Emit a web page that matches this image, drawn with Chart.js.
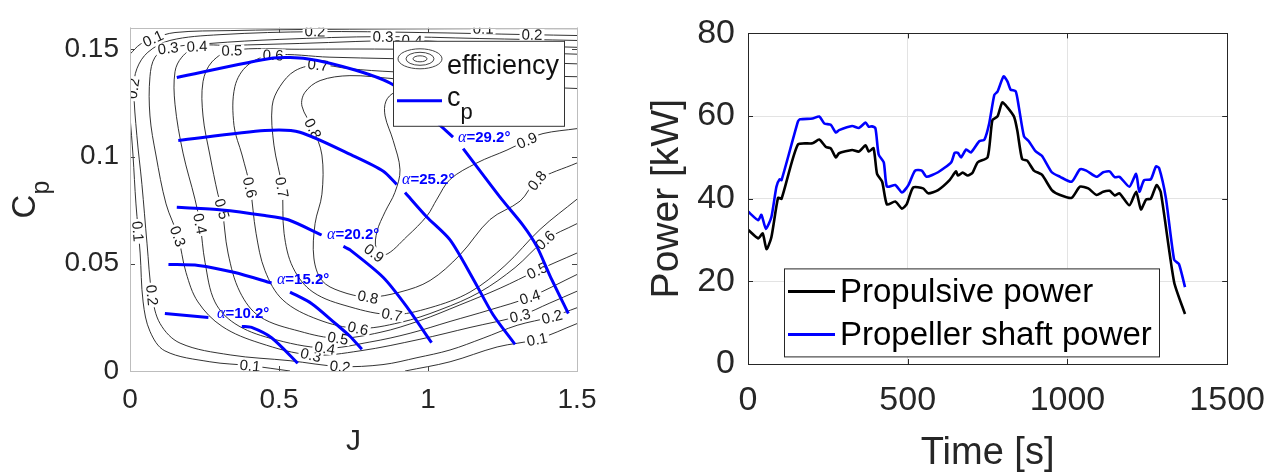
<!DOCTYPE html>
<html><head><meta charset="utf-8">
<script src="https://cdn.jsdelivr.net/npm/chart.js@4/dist/chart.umd.min.js"></script>
<style>
html,body{margin:0;padding:0;background:#fff;width:1281px;height:474px;overflow:hidden;}
#left{position:absolute;left:0;top:0;}
#right{position:absolute;left:640px;top:0;}
</style></head><body>
<canvas id="left" width="640" height="474"></canvas>
<canvas id="right" width="641" height="474"></canvas>
<script>
const FAM = "'Liberation Sans', Arial, Helvetica, sans-serif";

// ---------------- Left panel: efficiency contours + Cp curves ----------------
const jTicks = [0, 0.5, 1, 1.5];
const cpTicks = [0, 0.05, 0.1, 0.15];

// contour polylines [J, Cp]
const eff01a = [[0,0.1477],[0.034,0.1523],[0.077,0.1550],[0.151,0.1578],[0.336,0.1587],[0.671,0.1593],[1.185,0.1596],[1.5,0.1596]];
const eff01b = [[0,0.1189],[0.010,0.1007],[0.020,0.0779],[0.034,0.0550],[0.044,0.0322],[0.067,0.0185],[0.117,0.0094],[0.268,0.0043],[0.403,0.0025],[0.537,0]];
const eff01c = [[0.923,0],[1.074,0.0043],[1.232,0.0112],[1.366,0.0148],[1.5,0.0221]];
const eff02 = [[1.5,0.1564],[1.342,0.1568],[0.973,0.1578],[0.621,0.1582],[0.302,0.1568],[0.134,0.1541],[0.060,0.1486],[0.023,0.1409],[0.013,0.1317],[0.023,0.1098],[0.040,0.0870],[0.057,0.0596],[0.074,0.0354],[0.101,0.0221],[0.168,0.0130],[0.336,0.0075],[0.537,0.0048],[0.705,0.0021],[0.849,0.0030],[0.963,0.0062],[1.074,0.0098],[1.185,0.0153],[1.299,0.0213],[1.416,0.0253],[1.5,0.0295]];
const eff03 = [[1.5,0.1541],[1.174,0.1550],[0.849,0.1559],[0.503,0.1546],[0.268,0.1527],[0.128,0.1505],[0.084,0.1463],[0.067,0.1372],[0.067,0.1189],[0.087,0.1007],[0.121,0.0779],[0.161,0.0628],[0.188,0.0459],[0.228,0.0322],[0.309,0.0208],[0.436,0.0130],[0.607,0.0075],[0.772,0.0094],[0.973,0.0148],[1.141,0.0203],[1.309,0.0258],[1.409,0.0317],[1.5,0.0372]];
const eff04 = [[1.5,0.1509],[1.174,0.1523],[0.946,0.1541],[0.570,0.1527],[0.336,0.1518],[0.225,0.1514],[0.174,0.1463],[0.151,0.1395],[0.151,0.1244],[0.178,0.1016],[0.218,0.0801],[0.235,0.0687],[0.252,0.0505],[0.285,0.0322],[0.352,0.0221],[0.470,0.0153],[0.654,0.0107],[0.805,0.0135],[0.940,0.0176],[1.074,0.0231],[1.208,0.0285],[1.342,0.0345],[1.5,0.0450]];
const eff05 = [[1.5,0.1477],[1.174,0.1491],[0.906,0.1500],[0.570,0.1500],[0.342,0.1495],[0.275,0.1441],[0.245,0.1349],[0.245,0.1189],[0.268,0.1007],[0.295,0.0824],[0.309,0.0756],[0.329,0.0550],[0.369,0.0368],[0.436,0.0253],[0.570,0.0185],[0.698,0.0153],[0.839,0.0180],[0.973,0.0235],[1.107,0.0308],[1.242,0.0386],[1.366,0.0468],[1.5,0.0550]];
const eff06 = [[1.5,0.1432],[1.074,0.1450],[0.671,0.1463],[0.480,0.1473],[0.396,0.1427],[0.352,0.1326],[0.349,0.1144],[0.376,0.1007],[0.403,0.0856],[0.423,0.0642],[0.453,0.0468],[0.513,0.0331],[0.631,0.0240],[0.765,0.0199],[0.906,0.0226],[1.040,0.0285],[1.174,0.0368],[1.292,0.0482],[1.393,0.0610],[1.5,0.0687]];
const eff07 = [[1.5,0.1372],[1.174,0.1381],[0.883,0.1395],[0.738,0.1409],[0.631,0.1427],[0.554,0.1400],[0.503,0.1326],[0.477,0.1235],[0.483,0.1053],[0.510,0.0856],[0.517,0.0642],[0.547,0.0482],[0.614,0.0368],[0.738,0.0299],[0.879,0.0263],[1.007,0.0295],[1.141,0.0368],[1.258,0.0491],[1.376,0.0660],[1.5,0.0801]];
const eff08 = [[1.5,0.1317],[1.174,0.1336],[0.883,0.1363],[0.738,0.1377],[0.638,0.1354],[0.587,0.1299],[0.577,0.1235],[0.614,0.1130],[0.644,0.1007],[0.644,0.0824],[0.621,0.0687],[0.617,0.0527],[0.644,0.0422],[0.705,0.0372],[0.799,0.0345],[0.906,0.0368],[1.007,0.0422],[1.107,0.0541],[1.208,0.0706],[1.309,0.0792],[1.366,0.0888],[1.5,0.0970]];
const eff09 = [[1.5,0.1130],[1.386,0.1107],[1.332,0.1075],[1.265,0.1030],[1.164,0.0970],[1.074,0.0893],[1.030,0.0801],[0.997,0.0724],[0.930,0.0628],[0.856,0.0541],[0.826,0.0573],[0.829,0.0651],[0.856,0.0742],[0.889,0.0833],[0.906,0.0938],[0.883,0.1075],[0.856,0.1189],[0.859,0.1258],[0.889,0.1299],[1.007,0.1336],[1.141,0.1326]];

const contourLevels = ['0.1','0.1','0.1','0.2','0.3','0.4','0.5','0.6','0.7','0.8','0.9'];
const contourLines  = [eff01a, eff01b, eff01c, eff02, eff03, eff04, eff05, eff06, eff07, eff08, eff09];

// contour labels: [text, J, Cp]
const contourLabels = [
  ['0.1',0.077,0.1550],['0.2',0.621,0.1584],['0.2',0.010,0.1317],['0.3',0.128,0.1505],['0.4',0.225,0.1514],
  ['0.5',0.342,0.1495],['0.6',0.480,0.1473],['0.7',0.631,0.1427],['0.8',0.614,0.1130],['0.1',1.185,0.1596],
  ['0.2',1.349,0.1568],['0.3',0.849,0.1559],['0.4',0.946,0.1541],
  ['0.1',0.027,0.0651],['0.2',0.074,0.0354],['0.3',0.161,0.0628],['0.4',0.235,0.0687],['0.5',0.309,0.0756],
  ['0.6',0.403,0.0856],['0.7',0.510,0.0856],
  ['0.1',0.403,0.0025],['0.2',0.705,0.0021],['0.3',0.607,0.0075],['0.4',0.654,0.0107],['0.5',0.698,0.0153],
  ['0.6',0.765,0.0199],['0.7',0.879,0.0263],['0.8',0.799,0.0345],['0.9',0.819,0.0550],
  ['0.9',1.332,0.1075],['0.8',1.366,0.0888],['0.6',1.393,0.0610],['0.5',1.366,0.0468],['0.4',1.342,0.0345],
  ['0.3',1.309,0.0258],['0.2',1.416,0.0253],['0.1',1.366,0.0148]
];

// Cp curves for blade pitch angles (upper and lower branches around the label)
const cp292up = [[0.157,0.1368],[0.481,0.1459],[0.593,0.1456],[0.755,0.1403],[0.883,0.1334],[1.035,0.1152],[1.084,0.1090]];
const cp292lo = [[1.118,0.1037],[1.247,0.0801],[1.319,0.0679],[1.365,0.0581],[1.409,0.0445],[1.471,0.0268]];
const cp252up = [[0.162,0.1075],[0.453,0.1121],[0.570,0.1113],[0.755,0.0999],[0.850,0.0931],[0.895,0.0870]];
const cp252lo = [[0.923,0.0832],[0.996,0.0718],[1.074,0.0611],[1.152,0.0428],[1.219,0.0261],[1.292,0.0124]];
const cp202up = [[0.157,0.0763],[0.308,0.0751],[0.453,0.0725],[0.531,0.0705],[0.643,0.0634]];
const cp202lo = [[0.716,0.0581],[0.738,0.0565],[0.850,0.0436],[0.929,0.0299],[1.012,0.0132]];
const cp152up = [[0.129,0.0497],[0.229,0.0492],[0.352,0.0459],[0.475,0.0410]];
const cp152lo = [[0.537,0.0368],[0.610,0.0314],[0.688,0.0223],[0.738,0.0162],[0.778,0.0101]];
const cp102up = [[0.117,0.0268],[0.263,0.0249]];
const cp102lo = [[0.375,0.0208],[0.408,0.0203],[0.476,0.0154],[0.563,0.0036]];
const cpLines = [cp292up, cp292lo, cp252up, cp252lo, cp202up, cp202lo, cp152up, cp152lo, cp102up, cp102lo];

const alphaValues = ['29.2', '25.2', '20.2', '15.2', '10.2'];
const alphaLabelAt = [[1.101,0.1089],[0.913,0.0893],[0.661,0.0637],[0.493,0.0427],[0.292,0.0267]];

// ---------------- Right panel: power vs time ----------------
const timeTicks = [0, 500, 1000, 1500];
const powerTicks = [0, 20, 40, 60, 80];
const seriesNames = ['Propulsive power', 'Propeller shaft power'];
const tProp = [0,32,46,58,73,94,105,156,202,223,244,259,275,285,326,347,368,378,393,404,420,435,461,482,497,517,548,564,595,631,651,657,672,688,703,719,750,765,781,796,812,833,843,858,874,895,920,951,977,1013,1039,1065,1091,1112,1132,1148,1163,1194,1215,1230,1246,1261,1279,1292,1334,1368];
const pProp = [32.5,30.4,31.6,27.8,30.6,40.2,40.0,53.1,53.4,54.3,52.5,52.2,50.0,51.0,51.8,51.4,52.9,51.4,52.2,46.0,44.1,38.6,39.3,37.6,38.7,42.7,42.5,41.3,42.1,44.5,46.6,45.6,46.3,45.6,46.3,48.8,50.0,59.0,59.9,63.3,62.1,59.8,56.5,49.6,49.2,46.8,45.8,42.1,40.9,40.2,42.9,42.5,40.9,41.7,41.9,40.8,41.3,38.4,41.7,37.4,39.8,40.0,43.3,41.6,19.8,12.1];
const tShaft = [0,32,42,56,73,89,99,105,156,163,202,223,239,259,275,285,326,347,368,378,388,399,409,425,435,461,482,502,523,544,559,595,636,647,657,667,683,698,724,740,755,771,781,800,812,822,838,848,864,879,900,920,951,977,1013,1039,1059,1091,1112,1132,1148,1163,1194,1215,1225,1240,1261,1277,1287,1308,1334,1349,1368];
const pShaft = [36.9,34.8,36.1,32.7,35.5,42.9,44.7,44.5,58.6,59.2,59.4,59.9,58.2,57.9,56.0,56.6,57.6,57.1,58.4,57.4,57.5,57.0,50.7,48.8,42.9,43.3,41.5,43.3,46.8,46.8,45.3,46.4,48.8,51.1,51.1,50.0,51.9,51.2,53.9,54.3,58.2,65.1,65.9,69.6,68.4,66.4,66.0,62.1,55.1,53.9,51.5,50.4,46.4,45.3,44.1,47.1,46.8,45.3,46.4,46.6,45.2,45.3,42.9,46.0,41.7,44.5,44.7,47.8,47.4,40.2,25.2,24.2,18.6];

// ---------------- helpers ----------------
const pairs = arr => arr.map(p => ({x: p[0], y: p[1]}));
const zipXY = (xs, ys) => xs.map((v, i) => ({x: v, y: ys[i]}));
const fmtNum = v => String(+Number(v).toFixed(3));

function drawBox(chart, boxColor, tickColor, tickLen) {
  const {ctx, chartArea: a, scales: {x, y}} = chart;
  ctx.save();
  ctx.strokeStyle = tickColor; ctx.lineWidth = 1;
  ctx.beginPath();
  x.ticks.forEach(t => {
    const px = Math.round(x.getPixelForValue(t.value)) + 0.5;
    ctx.moveTo(px, a.bottom); ctx.lineTo(px, a.bottom - tickLen);
    ctx.moveTo(px, a.top); ctx.lineTo(px, a.top + tickLen);
  });
  y.ticks.forEach(t => {
    const py = Math.round(y.getPixelForValue(t.value)) + 0.5;
    ctx.moveTo(a.left, py); ctx.lineTo(a.left + tickLen, py);
    ctx.moveTo(a.right, py); ctx.lineTo(a.right - tickLen, py);
  });
  ctx.stroke();
  ctx.strokeStyle = boxColor;
  ctx.strokeRect(Math.round(a.left) + 0.5, Math.round(a.top) + 0.5, Math.round(a.right - a.left), Math.round(a.bottom - a.top));
  ctx.restore();
}

function segDist(px, py, a, b) {
  const dx = b.x - a.x, dy = b.y - a.y;
  const L = dx * dx + dy * dy || 1;
  let t = ((px - a.x) * dx + (py - a.y) * dy) / L;
  t = Math.max(0, Math.min(1, t));
  return Math.hypot(px - (a.x + t * dx), py - (a.y + t * dy));
}

function labelAngle(chart, level, px, py) {
  const {x, y} = chart.scales;
  let best = null, bd = Infinity;
  contourLines.forEach((line, k) => {
    if (contourLevels[k] !== level) return;
    for (let i = 0; i < line.length - 1; i++) {
      const a = {x: x.getPixelForValue(line[i][0]), y: y.getPixelForValue(line[i][1])};
      const b = {x: x.getPixelForValue(line[i + 1][0]), y: y.getPixelForValue(line[i + 1][1])};
      const d = segDist(px, py, a, b);
      if (d < bd) { bd = d; best = [a, b]; }
    }
  });
  if (!best) return 0;
  let ang = Math.atan2(best[1].y - best[0].y, best[1].x - best[0].x);
  if (ang > Math.PI / 2) ang -= Math.PI;
  if (ang < -Math.PI / 2) ang += Math.PI;
  return ang;
}

function drawContourLabels(chart) {
  const {ctx, chartArea: a, scales: {x, y}} = chart;
  ctx.save();
  ctx.beginPath(); ctx.rect(a.left, a.top, a.right - a.left, a.bottom - a.top); ctx.clip();
  ctx.font = '15px ' + FAM;
  ctx.textAlign = 'center'; ctx.textBaseline = 'middle';
  contourLabels.forEach(([txt, j, cp]) => {
    const px = x.getPixelForValue(j), py = y.getPixelForValue(cp);
    const ang = labelAngle(chart, txt, px, py);
    ctx.save(); ctx.translate(px, py); ctx.rotate(ang);
    const w = ctx.measureText(txt).width + 4;
    ctx.fillStyle = '#fff'; ctx.fillRect(-w / 2, -6, w, 12);
    ctx.fillStyle = '#1a1a1a'; ctx.fillText(txt, 0, 1);
    ctx.restore();
  });
  ctx.restore();
}

function drawAlphaLabels(chart) {
  const {ctx, scales: {x, y}} = chart;
  ctx.save();
  ctx.textBaseline = 'middle'; ctx.textAlign = 'left';
  ctx.fillStyle = '#0000ff';
  alphaValues.forEach((v, i) => {
    const px = x.getPixelForValue(alphaLabelAt[i][0]), py = y.getPixelForValue(alphaLabelAt[i][1]);
    ctx.font = "italic 16px 'Liberation Serif', 'Times New Roman', serif";
    ctx.fillText('\u03b1', px, py);
    const w = ctx.measureText('\u03b1').width;
    ctx.font = 'bold 15px ' + FAM;
    ctx.fillText('=' + v + '\u00b0', px + w, py);
  });
  ctx.restore();
}

function drawLeftLegend(chart) {
  const {ctx, chartArea: a} = chart;
  const L = a.left + 263, T = a.top + 13, W = 171, H = 85;
  ctx.save();
  ctx.fillStyle = '#fff'; ctx.fillRect(L, T, W, H);
  ctx.strokeStyle = '#333'; ctx.lineWidth = 1;
  ctx.strokeRect(L + 0.5, T + 0.5, W, H);
  ctx.strokeStyle = '#444';
  [[22, 10], [14, 6.5], [7, 3]].forEach(([rx, ry]) => {
    ctx.beginPath(); ctx.ellipse(L + 27, T + 18, rx, ry, 0, 0, Math.PI * 2); ctx.stroke();
  });
  ctx.fillStyle = '#111'; ctx.textBaseline = 'alphabetic'; ctx.textAlign = 'left';
  ctx.font = '27px ' + FAM;
  ctx.fillText('efficiency', L + 54, T + 33);
  ctx.strokeStyle = '#0000ff'; ctx.lineWidth = 3;
  ctx.beginPath(); ctx.moveTo(L + 4, T + 60); ctx.lineTo(L + 49, T + 60); ctx.stroke();
  ctx.fillStyle = '#111';
  ctx.font = '27px ' + FAM;
  ctx.fillText('c', L + 54, T + 65);
  const wc = ctx.measureText('c').width;
  ctx.font = '22px ' + FAM;
  ctx.fillText('p', L + 54 + wc, T + 78);
  ctx.restore();
}

function drawCpTitle(chart) {
  const {ctx, chartArea: a} = chart;
  const cy = (a.top + a.bottom) / 2;
  ctx.save();
  ctx.translate(35, cy + 19);
  ctx.rotate(-Math.PI / 2);
  ctx.fillStyle = '#262626'; ctx.textBaseline = 'alphabetic'; ctx.textAlign = 'left';
  ctx.font = '33px ' + FAM;
  ctx.fillText('C', 0, 0);
  const w = ctx.measureText('C').width;
  ctx.font = '25px ' + FAM;
  ctx.fillText('p', w, 14);
  ctx.restore();
}

const leftPlugin = {
  id: 'leftDecor',
  beforeDatasetsDraw(chart) { chart.$lblDone = false; },
  beforeDatasetDraw(chart, args) {
    const ds = chart.data.datasets[args.index];
    if (ds.isCp && !chart.$lblDone) { drawContourLabels(chart); chart.$lblDone = true; }
  },
  afterDatasetsDraw(chart) {
    if (!chart.$lblDone) { drawContourLabels(chart); chart.$lblDone = true; }
    drawAlphaLabels(chart);
    drawBox(chart, '#bdbdbd', '#444', 5);
    drawLeftLegend(chart);
    drawCpTitle(chart);
  }
};

const leftDatasets = [];
cpLines.forEach(l => leftDatasets.push({
  label: 'cp', isCp: true, data: pairs(l), showLine: true, borderColor: '#0000ff', borderWidth: 3,
  pointRadius: 0, pointHoverRadius: 0, tension: 0.25, order: 0, fill: false
}));
contourLines.forEach((l, k) => leftDatasets.push({
  label: 'eff ' + contourLevels[k], data: pairs(l), showLine: true, borderColor: '#1c1c1c', borderWidth: 0.9,
  pointRadius: 0, pointHoverRadius: 0, tension: 0.35, order: 1, fill: false
}));

new Chart(document.getElementById('left'), {
  type: 'scatter',
  data: {datasets: leftDatasets},
  options: {
    responsive: false, animation: false, events: [],
    layout: {padding: {left: 0, top: 19, right: 63, bottom: 0}},
    plugins: {legend: {display: false}, tooltip: {enabled: false}},
    scales: {
      x: {
        type: 'linear', min: 0, max: 1.5,
        afterBuildTicks: s => { s.ticks = jTicks.map(v => ({value: v})); },
        afterFit: s => { s.height = 103; },
        grid: {display: false, drawTicks: false}, border: {display: false},
        ticks: {font: {family: FAM, size: 28}, color: '#262626', padding: 12, maxRotation: 0, autoSkip: false, callback: fmtNum},
        title: {display: true, text: 'J', color: '#262626', font: {family: FAM, size: 30, lineHeight: 1}, padding: {top: 0, bottom: 17}}
      },
      y: {
        type: 'linear', min: 0, max: 0.16,
        afterBuildTicks: s => { s.ticks = cpTicks.map(v => ({value: v})); },
        afterFit: s => { s.width = 130; },
        grid: {display: false, drawTicks: false}, border: {display: false},
        ticks: {font: {family: FAM, size: 28}, color: '#262626', padding: 11, autoSkip: false, callback: fmtNum}
      }
    }
  },
  plugins: [leftPlugin]
});

// ---------------- right chart ----------------
const rightPlugin = {
  id: 'rightDecor',
  afterDatasetsDraw(chart) {
    drawBox(chart, '#262626', '#262626', 5);
    const {ctx, chartArea: a} = chart;
    const L = a.left + 36, T = a.top + 235, W = 375, H = 88;
    ctx.save();
    ctx.fillStyle = '#fff'; ctx.fillRect(L, T, W, H);
    ctx.strokeStyle = '#262626'; ctx.lineWidth = 1;
    ctx.strokeRect(L + 0.5, T + 0.5, W, H);
    ctx.font = '33px ' + FAM; ctx.textBaseline = 'middle'; ctx.textAlign = 'left';
    chart.data.datasets.forEach((ds, i) => {
      const cy = T + 23 + i * 43;
      ctx.strokeStyle = ds.borderColor; ctx.lineWidth = 3;
      ctx.beginPath(); ctx.moveTo(L + 4, cy); ctx.lineTo(L + 51, cy); ctx.stroke();
      ctx.fillStyle = '#000';
      ctx.fillText(ds.label, L + 56, cy + 2);
    });
    ctx.restore();
  }
};

new Chart(document.getElementById('right'), {
  type: 'scatter',
  data: {datasets: [
    {label: seriesNames[0], data: zipXY(tProp, pProp), showLine: true, borderColor: '#000000', borderWidth: 2.6, pointRadius: 0, tension: 0.2, order: 0},
    {label: seriesNames[1], data: zipXY(tShaft, pShaft), showLine: true, borderColor: '#0000ff', borderWidth: 2.6, pointRadius: 0, tension: 0.2, order: 1}
  ]},
  options: {
    responsive: false, animation: false, events: [],
    layout: {padding: {left: 0, top: 24, right: 51, bottom: 0}},
    plugins: {legend: {display: false}, tooltip: {enabled: false}},
    scales: {
      x: {
        type: 'linear', min: 0, max: 1500,
        afterBuildTicks: s => { s.ticks = timeTicks.map(v => ({value: v})); },
        afterFit: s => { s.height = 110; },
        grid: {color: '#e3e3e3', drawTicks: false, lineWidth: 1}, border: {display: false},
        ticks: {font: {family: FAM, size: 34}, color: '#262626', padding: 16, maxRotation: 0, autoSkip: false, callback: v => String(v)},
        title: {display: true, text: 'Time [s]', color: '#262626', font: {family: FAM, size: 38, lineHeight: 1}, padding: {top: 0, bottom: 1}}
      },
      y: {
        type: 'linear', min: 0, max: 80,
        afterBuildTicks: s => { s.ticks = powerTicks.map(v => ({value: v})); },
        afterFit: s => { s.width = 108; },
        grid: {color: '#e3e3e3', drawTicks: false, lineWidth: 1}, border: {display: false},
        ticks: {font: {family: FAM, size: 34}, color: '#262626', padding: 13, autoSkip: false, callback: v => String(v)},
        title: {display: true, text: 'Power [kW]', color: '#262626', font: {family: FAM, size: 39, lineHeight: 1}, padding: {top: 8, bottom: 0}}
      }
    }
  },
  plugins: [rightPlugin]
});
</script>
</body></html>
